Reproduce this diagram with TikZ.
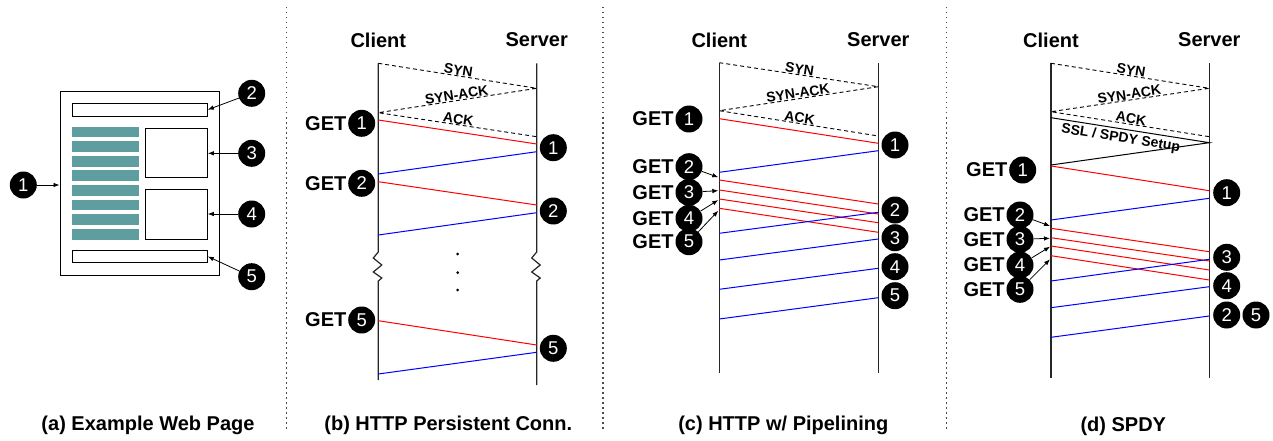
\documentclass[tikz,border=0pt]{standalone}
\usepackage{fontspec}
\setmainfont{Liberation Sans}
\usetikzlibrary{arrows.meta,positioning}
\definecolor{webteal}{RGB}{95,158,160}
\tikzset{
  numdot/.style={circle,fill=black,text=white,inner sep=0pt,minimum size=27pt,font=\fontsize{18.5}{18.5}\selectfont},
  lbl/.style={font=\bfseries\fontsize{20}{20}\selectfont,inner sep=0pt},
  msg/.style={font=\bfseries\fontsize{14}{14}\selectfont,inner sep=0.3pt,sloped},
  life/.style={black!85,line width=1.2pt},
  hand/.style={black,dash pattern=on 4pt off 3pt,line width=0.9pt},
  req/.style={red,line width=1pt},
  resp/.style={blue,line width=1pt},
  ptr/.style={-{Latex[length=6pt,width=4.5pt]},line width=0.8pt},
  sep/.style={black!70,line width=1.2pt,dash pattern=on 1.5pt off 3.5pt},
  pagebox/.style={draw,line width=1pt,inner sep=0pt},
  textbar/.style={fill=webteal,inner sep=0pt,minimum width=67.6pt,minimum height=10.7pt}
}
\begin{document}
\begin{tikzpicture}[x=1pt,y=-1pt]
  \useasboundingbox (0,0) rectangle (1273,441);
  % separators
  \draw[sep] (286.7,7) -- (286.7,432);
  \draw[sep] (603,7) -- (603,432);
  \draw[sep] (946.7,7) -- (946.7,432);

  % (a) example web page
  \node[pagebox,minimum width=159pt,minimum height=183.3pt] (page) at (139.5,183.35) {};
  \node[pagebox,minimum width=134.6pt,minimum height=12.7pt] (topbar) at (140,109.7) {};
  \node[pagebox,minimum width=134.6pt,minimum height=11.6pt] (botbar) at (140,256.5) {};
  \node[pagebox,minimum width=61.6pt,minimum height=49pt] (img3) at (176.5,152.8) {};
  \node[pagebox,minimum width=61.6pt,minimum height=49.7pt] (img4) at (176.5,214.2) {};
  \foreach \i in {0,...,7}
    \node[textbar] (txt\i) at (105.5,132+14.6*\i) {};
  \node[numdot] (a1) at (23.3,185) {1};
  \node[numdot] (a2) at (251.7,93.3) {2};
  \node[numdot] (a3) at (251.7,153.3) {3};
  \node[numdot] (a4) at (251.7,214) {4};
  \node[numdot] (a5) at (251.7,276.7) {5};
  \draw[ptr] (a1) -- (a1 -| page.west);
  \draw[ptr] (a2) -- (topbar.east);
  \draw[ptr] (a3) -- (a3 -| img3.east);
  \draw[ptr] (a4) -- (a4 -| img4.east);
  \draw[ptr] (a5) -- (botbar.east);
  \node[lbl] (atitle) at (148,425) {(a) Example Web Page};

  % (b) HTTP persistent connection
  \begin{scope}[xshift=378.3pt]
    \node[lbl] (bcl) at (0,40) {Client};
    \node[lbl] (bsv) at (158.4,40) {Server};
    \coordinate (bc0) at (0,63.3);
    \coordinate (bs0) at (158.4,63.3);
    \draw[life] (bc0) -- (0,252) -- ++(-5,6) -- ++(8.5,7) -- ++(-8.5,7) -- ++(8.5,6) -- ++(-3.5,3) -- (0,380);
    \draw[life] (bs0) -- (158.4,252) -- ++(-5,6) -- ++(8.5,7) -- ++(-8.5,7) -- ++(8.5,6) -- ++(-3.5,3) -- (158.4,385);
    \coordinate (bsyn) at (158.4,88.3);
    \coordinate (bsack) at (0,112.7);
    \coordinate (back) at (158.4,136.7);
    \draw[hand] (bc0) -- node[msg,above]{SYN} (bsyn) -- node[msg,above]{SYN-ACK} (bsack) -- node[msg,above]{ACK} (back);
    \foreach \ya/\yb [count=\i] in {120/144,181.7/205,320.7/345} {
      \coordinate (b-rq-\i-c) at (0,\ya);
      \coordinate (b-rq-\i-s) at (158.4,\yb);
      \draw[req] (b-rq-\i-c) -- (b-rq-\i-s);
    }
    \foreach \ya/\yb [count=\i] in {151.7/174,212.7/235,352.3/374} {
      \coordinate (b-rs-\i-s) at (158.4,\ya);
      \coordinate (b-rs-\i-c) at (0,\yb);
      \draw[resp] (b-rs-\i-s) -- (b-rs-\i-c);
    }
    \foreach \n/\y in {1/123.3,2/183.3,5/320} {
      \node[numdot] (bg\n) at (-16.6,\y) {\n};
      \node[lbl,left=1.5pt of bg\n] (bget\n) {GET};
    }
    \foreach \n/\y in {1/147.7,2/211,5/348.3}
      \node[numdot] (bs\n) at (175,\y) {\n};
    \foreach \y in {254,272.7,290}
      \fill (79.4,\y) circle[radius=1.5pt];
    \node[lbl] (btitle) at (70,425) {(b) HTTP Persistent Conn.};
  \end{scope}

  % (c) HTTP with pipelining
  \begin{scope}[xshift=719.3pt]
    \node[lbl] (ccl) at (0,40) {Client};
    \node[lbl] (csv) at (159,40) {Server};
    \coordinate (cc0) at (0,62.7);
    \coordinate (cs0) at (159,62.7);
    \coordinate (cc1) at (0,373.3);
    \coordinate (cs1) at (159,373.3);
    \draw[life] (cc0) -- (cc1);
    \draw[life] (cs0) -- (cs1);
    \coordinate (csyn) at (159,86.7);
    \coordinate (csack) at (0,110.7);
    \coordinate (cack) at (159,136);
    \draw[hand] (cc0) -- node[msg,above]{SYN} (csyn) -- node[msg,above]{SYN-ACK} (csack) -- node[msg,above]{ACK} (cack);
    \foreach \ya/\yb [count=\i] in {118.7/143.3,180/204,190/214,199/222.7,208.3/232.3} {
      \coordinate (c-rq-\i-c) at (0,\ya);
      \coordinate (c-rq-\i-s) at (159,\yb);
      \draw[req] (c-rq-\i-c) -- (c-rq-\i-s);
    }
    \foreach \ya/\yb [count=\i] in {150.7/172.3,212.3/233.3,239/260,268.3/289.3,297.7/319} {
      \coordinate (c-rs-\i-s) at (159,\ya);
      \coordinate (c-rs-\i-c) at (0,\yb);
      \draw[resp] (c-rs-\i-s) -- (c-rs-\i-c);
    }
    \foreach \n/\y in {1/119,2/166.7,3/192.3,4/218.3,5/241.7} {
      \node[numdot] (cg\n) at (-30.3,\y) {\n};
      \node[lbl,left=1.5pt of cg\n] (cget\n) {GET};
    }
    \foreach \n/\y in {2/177.3,3/190.7,4/200,5/210.7} {
      \coordinate (ctip\n) at (-1,\y);
      \draw[ptr] (cg\n) -- (ctip\n);
    }
    \foreach \n/\y in {1/145,2/210,3/237.7,4/266.7,5/295.7}
      \node[numdot] (cs\n) at (175.7,\y) {\n};
    \node[lbl] (ctitle) at (64,425) {(c) HTTP w/ Pipelining};
  \end{scope}

  % (d) SPDY
  \begin{scope}[xshift=1051pt]
    \node[lbl] (dcl) at (0,40) {Client};
    \node[lbl] (dsv) at (158.3,40) {Server};
    \coordinate (dc0) at (0,63.3);
    \coordinate (ds0) at (158.3,63.3);
    \coordinate (dc1) at (0,378.3);
    \coordinate (ds1) at (158.3,378.3);
    \draw[life] (dc0) -- (dc1);
    \draw[life] (ds0) -- (ds1);
    \coordinate (dsyn) at (158.3,88.3);
    \coordinate (dsack) at (0,111.7);
    \coordinate (dack) at (158.3,136.7);
    \draw[hand] (dc0) -- node[msg,above]{SYN} (dsyn) -- node[msg,above]{SYN-ACK} (dsack) -- node[msg,above]{ACK} (dack);
    \coordinate (dssl0) at (0,117.7);
    \coordinate (dssl1) at (158.3,142.7);
    \coordinate (dssl2) at (0,165);
    \draw[black,line width=1pt] (dssl0) -- node[msg,below=2.5pt,pos=0.45]{SSL / SPDY Setup} (dssl1) -- (dssl2);
    \foreach \ya/\yb [count=\i] in {166/190.7,228.3/251.7,237.7/261,246/270,255.7/280} {
      \coordinate (d-rq-\i-c) at (0,\ya);
      \coordinate (d-rq-\i-s) at (158.3,\yb);
      \draw[req] (d-rq-\i-c) -- (d-rq-\i-s);
    }
    \foreach \ya/\yb [count=\i] in {198.3/220,259.3/281,286.7/307.7,316/337.3} {
      \coordinate (d-rs-\i-s) at (158.3,\ya);
      \coordinate (d-rs-\i-c) at (0,\yb);
      \draw[resp] (d-rs-\i-s) -- (d-rs-\i-c);
    }
    \node[numdot] (dg1) at (-28.3,170) {1};
    \node[lbl,left=1.5pt of dg1] (dget1) {GET};
    \foreach \n/\y in {2/215,3/239.3,4/265,5/289.3} {
      \node[numdot] (dg\n) at (-31,\y) {\n};
      \node[lbl,left=1.5pt of dg\n] (dget\n) {GET};
    }
    \foreach \n/\y in {2/226,3/238.3,4/246.7,5/259.3} {
      \coordinate (dtip\n) at (-1,\y);
      \draw[ptr] (dg\n) -- (dtip\n);
    }
    \foreach \n/\y in {1/192.7,3/257.3,4/285.7,2/315}
      \node[numdot] (ds\n) at (175.7,\y) {\n};
    \node[numdot] (ds5) at (205,315) {5};
    \node[lbl] (dtitle) at (72.3,426) {(d) SPDY};
  \end{scope}
\end{tikzpicture}
\end{document}
